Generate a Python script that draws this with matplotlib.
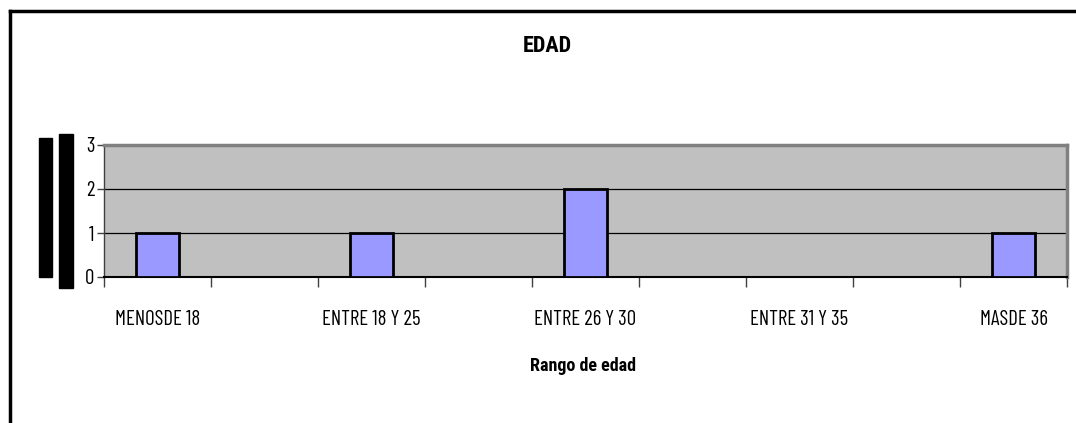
import matplotlib
matplotlib.use('Agg')
import matplotlib.pyplot as plt
from matplotlib.patches import Rectangle
from matplotlib.lines import Line2D
import numpy as np

# data
categorias = ['MENOSDE 18', 'ENTRE 18 Y 25', 'ENTRE 26 Y 30', 'ENTRE 31 Y 35', 'MASDE 36']
valores = [1, 1, 2, 0, 1]
titulo = 'EDAD'
etiqueta_x = 'Rango de edad'

plt.rcParams['font.family'] = ['Barlow Condensed', 'DejaVu Sans']
fuente_negrita = ['Roboto Condensed', 'DejaVu Sans']

fig = plt.figure(figsize=(10.76, 4.23), dpi=100)
W, H = 1076, 423

def px(x0, y0, x1, y1):
    # pixel box -> figure fraction [left, bottom, width, height]
    return [x0 / W, 1 - y1 / H, (x1 - x0) / W, (y1 - y0) / H]

ax = fig.add_axes(px(104, 145, 1067, 277))
ax.set_facecolor('#C0C0C0')

x = np.arange(len(categorias))
ax.bar(x, valores, width=0.2, color='#9999FF', edgecolor='black', linewidth=2, zorder=3)

ax.set_xlim(-0.25, len(categorias) - 0.75)
ax.set_ylim(0, 3)
ax.set_yticks([0, 1, 2, 3])
ax.yaxis.grid(True, color='black', linewidth=0.9, zorder=1)
ax.set_axisbelow(True)

# tick marks on every half-category boundary, labels centred on bars
ax.set_xticks(np.arange(-0.25, len(categorias) - 0.5, 0.5))
ax.set_xticklabels([])
ax.set_xticks(x, minor=True)
ax.set_xticklabels(categorias, minor=True)
ax.tick_params(axis='x', which='minor', length=0, pad=24, labelsize=15)
ax.tick_params(axis='x', which='major', length=7, width=1, color='#404040', direction='out')
ax.tick_params(axis='y', length=5, width=1, color='#404040', labelsize=15, pad=2)

for s in ['top', 'right']:
    ax.spines[s].set_color('#808080')
    ax.spines[s].set_linewidth(2.5)
ax.spines['left'].set_color('#404040')
ax.spines['bottom'].set_color('black')
ax.spines['left'].set_linewidth(1)
ax.spines['bottom'].set_linewidth(1.5)

fig.text(547 / W, 1 - 46 / H, titulo, ha='center', va='center',
         fontsize=16, fontweight='bold', family=fuente_negrita)
fig.text(583 / W, 1 - 366 / H, etiqueta_x, ha='center', va='center',
         fontsize=13, fontweight='bold', family=fuente_negrita)

# the two black blocks to the left of the axis
fig.add_artist(Rectangle((39 / W, 1 - 277 / H), 13 / W, 139 / H, transform=fig.transFigure,
                         color='black'))
fig.add_artist(Rectangle((59 / W, 1 - 288 / H), 14 / W, 154 / H, transform=fig.transFigure,
                         color='black'))

# outer frame (top and left)
fig.add_artist(Line2D([9.5 / W, 1], [1 - 11.5 / H, 1 - 11.5 / H], transform=fig.transFigure,
                      color='black', linewidth=2.5))
fig.add_artist(Line2D([9.5 / W, 9.5 / W], [1 - 11.5 / H, 0], transform=fig.transFigure,
                      color='black', linewidth=2.5))

fig.savefig('out.png', dpi=100)
